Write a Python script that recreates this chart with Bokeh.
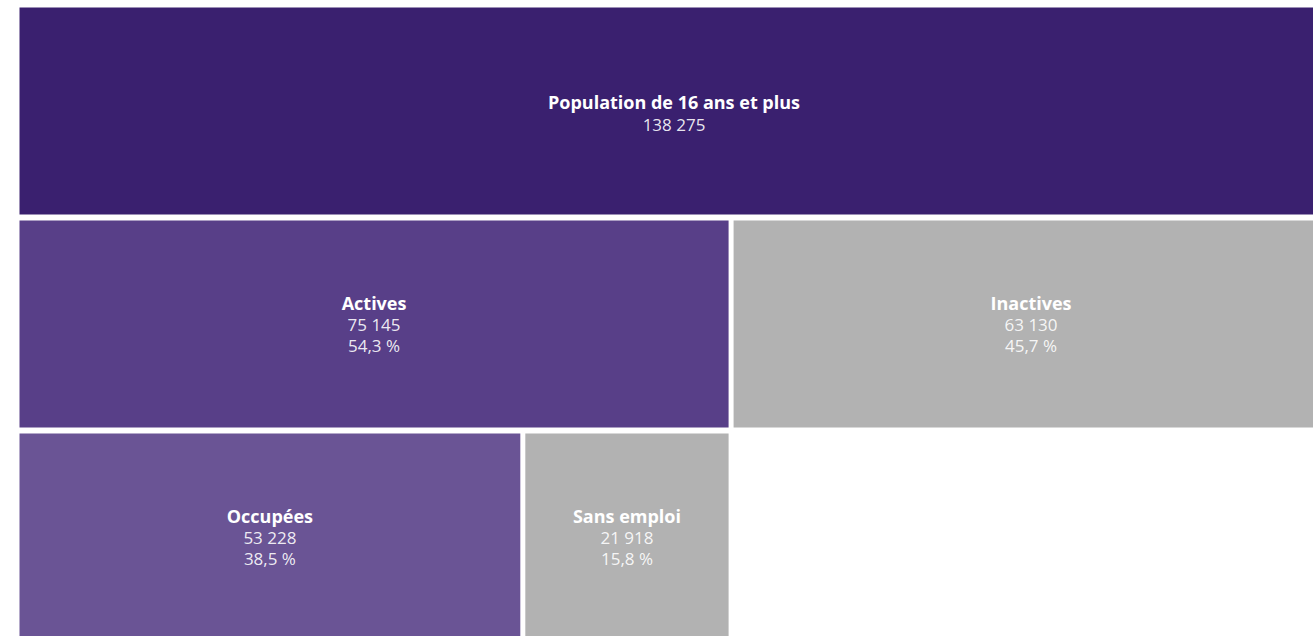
from bokeh.plotting import figure
from bokeh.models import ColumnDataSource, Range1d
from bokeh.embed import file_html
from bokeh.resources import INLINE
from bokeh.core.properties import value

# ---- data ----
labels = ["Population de 16 ans et plus", "Actives", "Inactives", "Occupées", "Sans emploi"]
values = [138275, 75145, 63130, 53228, 21918]
parents = [None, 0, 0, 1, 1]
shares = ["", "54,3 %", "45,7 %", "38,5 %", "15,8 %"]
colors = ["#3a206f", "#583f88", "#b2b2b2", "#6a5495", "#b2b2b2"]

# ---- layout ----
W, H = 1313, 636
CHART_PX = 1314          # full chart width in px (extends past window)
PAD_LEFT = 19
PAD_TOP = 7
GAP_X = 5
ROW_H = 207
ROW_STEP = 213
FONT = "Open Sans"

total = values[0]
u = total / CHART_PX      # value units per pixel

# compute partition positions
level = []
left = []
next_child = {}
for i, par in enumerate(parents):
    if par is None:
        level.append(0)
        left.append(0.0)
    else:
        level.append(level[par] + 1)
        start = next_child.get(par, left[par])
        left.append(start)
        next_child[par] = start + values[i]

rights = [l + v - GAP_X * u for l, v in zip(left, values)]
tops = [-lv * ROW_STEP for lv in level]
bottoms = [t - ROW_H for t in tops]
cx = [(l + r) / 2 for l, r in zip(left, rights)]
cy = [(t + b) / 2 for t, b in zip(tops, bottoms)]
nums = [f"{v:,}".replace(",", " ") for v in values]

src = ColumnDataSource(dict(left=left, right=rights, top=tops, bottom=bottoms,
                            color=colors, cx=cx, cy=cy, label=labels, num=nums, pct=shares))

p = figure(width=W, height=H, output_backend="svg", toolbar_location=None,
           x_range=Range1d(-PAD_LEFT * u, (W - PAD_LEFT) * u),
           y_range=Range1d(-(H - PAD_TOP), PAD_TOP),
           min_border=0, outline_line_color=None, background_fill_color="white",
           border_fill_color="white")
p.axis.visible = False
p.grid.visible = False

p.quad(left="left", right="right", top="top", bottom="bottom", source=src,
       fill_color="color", line_color=None)

top_idx = [i for i in range(len(labels)) if parents[i] is None]
ch_idx = [i for i in range(len(labels)) if parents[i] is not None]

def sub(idx):
    return ColumnDataSource({k: [src.data[k][i] for i in idx] for k in src.data})

s_top = sub(top_idx)
s_ch = sub(ch_idx)

common = dict(x="cx", y="cy", text_align="center", text_baseline="middle",
              text_font=value(FONT), text_color="white")
bold = dict(text_font_style="bold", text_font_size="18px", **common)
reg = dict(text_font_size="17px", text_alpha=0.9, **common)

p.text(text="label", source=s_top, y_offset=-9, **bold)
p.text(text="num", source=s_top, y_offset=13, **reg)

p.text(text="label", source=s_ch, y_offset=-21, **bold)
p.text(text="num", source=s_ch, y_offset=0, **reg)
p.text(text="pct", source=s_ch, y_offset=21, **reg)

open("out.html", "w").write(file_html(p, INLINE))
